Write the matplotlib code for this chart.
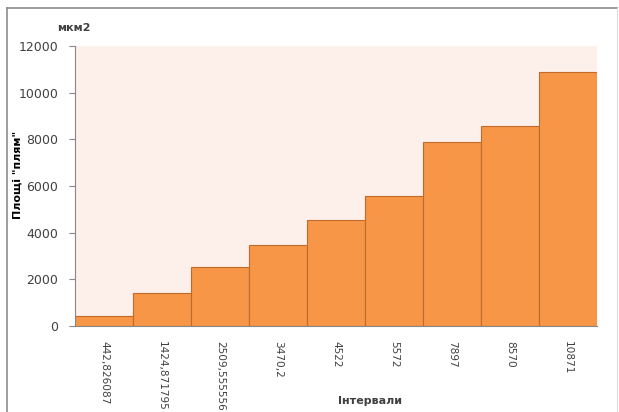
import matplotlib
matplotlib.use('Agg')
import matplotlib.pyplot as plt
from matplotlib.lines import Line2D

plt.rcParams['font.family'] = ['DejaVu Sans']

# інтервали та площі плям
interval_labels = ['442,826087', '1424,871795', '2509,555556', '3470,2', '4522',
                   '5572', '7897', '8570', '10871']
areas = [442.826087, 1424.871795, 2509.555556, 3470.2, 4522, 5572, 7897, 8570, 10871]

fig = plt.figure(figsize=(6.19, 4.12), dpi=100)
ax = fig.add_axes([75/619, 1-326/412, 522/619, 280/412])
ax.set_facecolor('#fdefe9')

x = range(len(areas))
ax.bar(x, areas, width=1.0, color='#f79646', edgecolor='#c06a2c', linewidth=0.8)

ax.set_xlim(-0.5, len(areas) - 0.5)
ax.set_ylim(0, 12000)
ax.set_yticks(range(0, 12001, 2000))
ax.set_xticks(list(x))
ax.set_xticklabels(interval_labels, rotation=-90, fontsize=7.6, color='#404040', va='top')
ax.tick_params(axis='x', length=0, pad=11)
ax.tick_params(axis='y', labelsize=9, colors='#404040', length=4, direction='out',
               color='#888888', pad=8)

for s in ['top', 'right']:
    ax.spines[s].set_visible(False)
ax.spines['left'].set_color('#888888')
ax.spines['bottom'].set_color('#888888')

ax.set_ylabel('Площі "плям"', fontsize=8, fontweight='bold')
ax.yaxis.set_label_coords(-52/522, 0.54)
fig.text(57/619, 1-28/412, 'мкм2', fontsize=8, fontweight='bold', color='#404040',
         va='center', ha='left')
fig.text(370/619, 1-401/412, 'Інтервали', fontsize=8, fontweight='bold', color='#404040',
         va='center', ha='center')

# рамка діаграми
fig.add_artist(Line2D([7/619, 617/619], [1-8/412, 1-8/412], color='#8c8c8c', lw=1.2))
fig.add_artist(Line2D([7/619, 7/619], [0, 1-8/412], color='#8c8c8c', lw=1.2))
fig.add_artist(Line2D([617/619, 617/619], [0, 1-8/412], color='#dddddd', lw=0.8))

fig.savefig('out.png', dpi=100)
